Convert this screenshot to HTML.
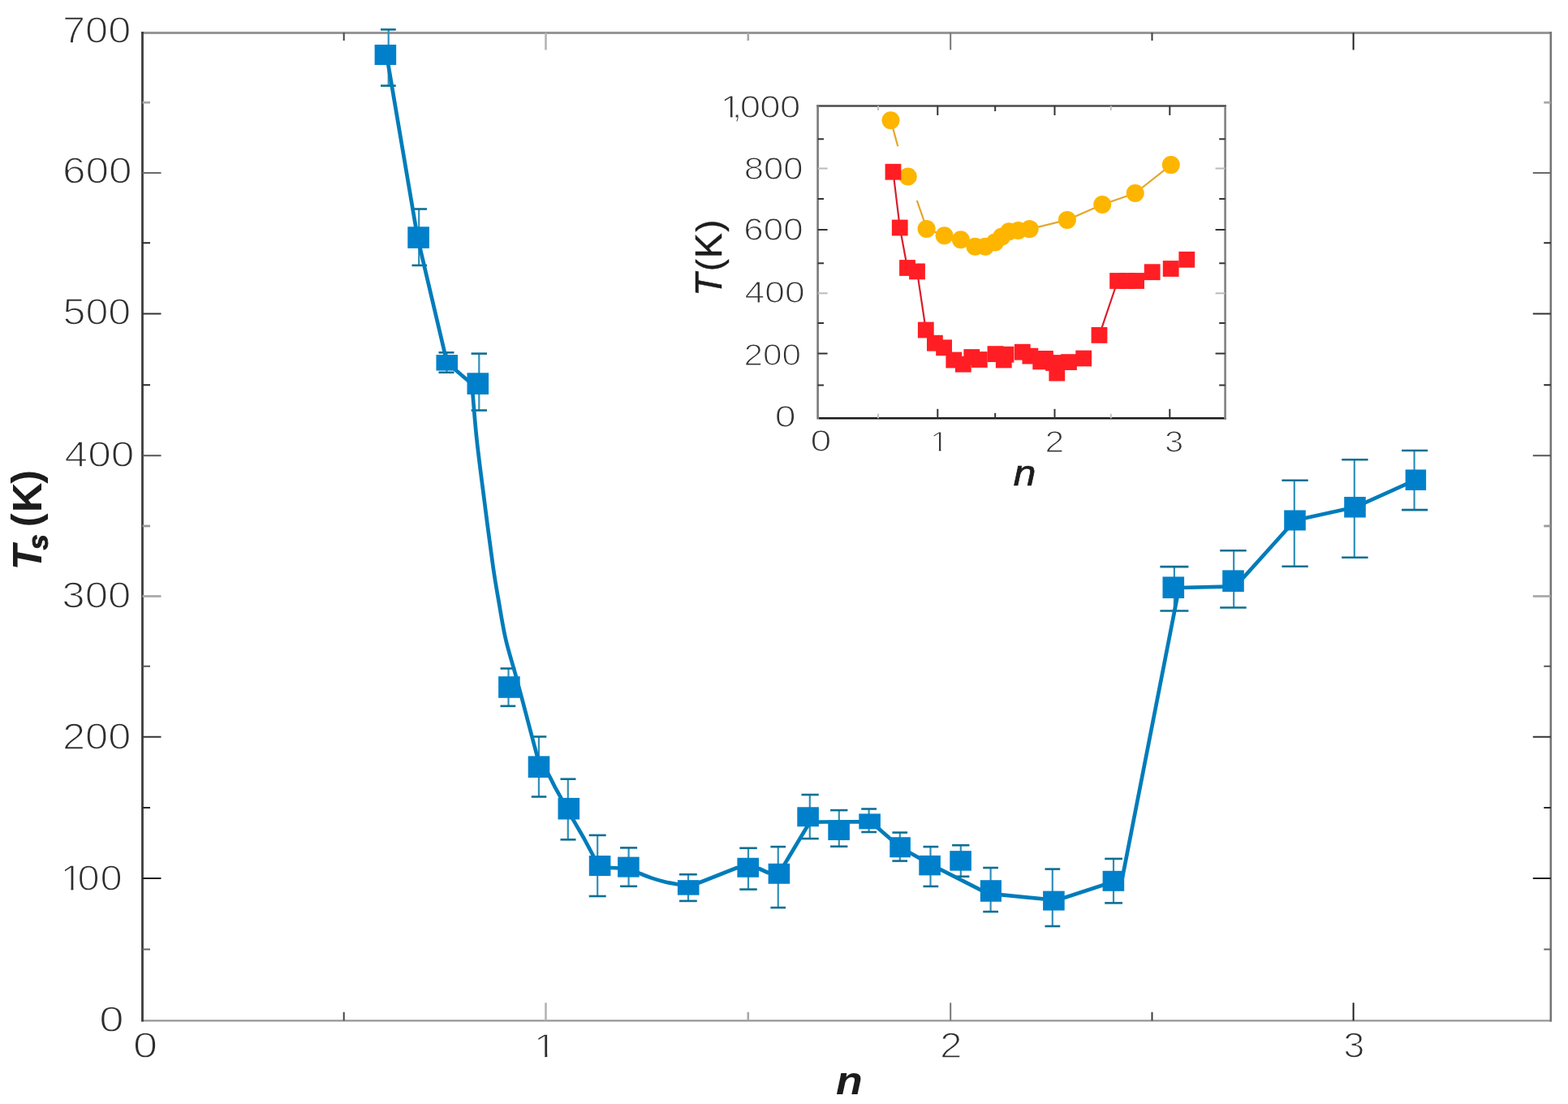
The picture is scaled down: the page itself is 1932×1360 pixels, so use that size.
<!DOCTYPE html>
<html lang="en">
<head>
<meta charset="utf-8">
<title>Ts (K) versus n</title>
<style>
html,body{margin:0;padding:0;background:#fff;}
body{width:1932px;height:1360px;overflow:hidden;font-family:"Liberation Sans",sans-serif;}
svg{display:block;}
</style>
</head>
<body>
<svg width="1932" height="1360" viewBox="0 0 1932 1360" font-family="'Liberation Sans', sans-serif">
<rect x="0" y="0" width="1932" height="1360" fill="#ffffff"/>
<g id="main-axes">
<line x1="174.10" y1="40.50" x2="1912.00" y2="40.50" stroke="#969696" stroke-width="2.8"/>
<line x1="174.10" y1="1257.30" x2="1912.00" y2="1257.30" stroke="#969696" stroke-width="2.3"/>
<line x1="1910.75" y1="39.10" x2="1910.75" y2="1258.40" stroke="#747474" stroke-width="2.5"/>
<line x1="175.50" y1="39.10" x2="175.50" y2="1258.40" stroke="#3c3c3c" stroke-width="2.8"/>
<line x1="423.70" y1="1257.30" x2="423.70" y2="1246.80" stroke="#444" stroke-width="2"/>
<line x1="423.70" y1="40.50" x2="423.70" y2="50.00" stroke="#444" stroke-width="2"/>
<line x1="672.50" y1="1257.30" x2="672.50" y2="1235.30" stroke="#b4b4b4" stroke-width="2.6"/>
<line x1="672.50" y1="40.50" x2="672.50" y2="61.50" stroke="#b4b4b4" stroke-width="2.6"/>
<line x1="921.80" y1="1257.30" x2="921.80" y2="1246.80" stroke="#a8a8a8" stroke-width="2.6"/>
<line x1="921.80" y1="40.50" x2="921.80" y2="50.00" stroke="#a8a8a8" stroke-width="2.6"/>
<line x1="1171.20" y1="1257.30" x2="1171.20" y2="1235.30" stroke="#777" stroke-width="2"/>
<line x1="1171.20" y1="40.50" x2="1171.20" y2="61.50" stroke="#777" stroke-width="2"/>
<line x1="1419.50" y1="1257.30" x2="1419.50" y2="1246.80" stroke="#3a3a3a" stroke-width="2"/>
<line x1="1419.50" y1="40.50" x2="1419.50" y2="50.00" stroke="#3a3a3a" stroke-width="2"/>
<line x1="1667.60" y1="1257.30" x2="1667.60" y2="1235.30" stroke="#1e1e1e" stroke-width="2"/>
<line x1="1667.60" y1="40.50" x2="1667.60" y2="61.50" stroke="#1e1e1e" stroke-width="2"/>
<line x1="175.50" y1="126.25" x2="185.00" y2="126.25" stroke="#a8a8a8" stroke-width="2.8"/>
<line x1="1910.75" y1="126.25" x2="1902.25" y2="126.25" stroke="#a8a8a8" stroke-width="2.8"/>
<line x1="175.50" y1="213.00" x2="198.50" y2="213.00" stroke="#6a6a6a" stroke-width="2"/>
<line x1="1910.75" y1="213.00" x2="1888.75" y2="213.00" stroke="#6a6a6a" stroke-width="2"/>
<line x1="175.50" y1="299.25" x2="185.00" y2="299.25" stroke="#2a2a2a" stroke-width="2"/>
<line x1="1910.75" y1="299.25" x2="1902.25" y2="299.25" stroke="#2a2a2a" stroke-width="2"/>
<line x1="175.50" y1="386.50" x2="198.50" y2="386.50" stroke="#333" stroke-width="2"/>
<line x1="1910.75" y1="386.50" x2="1888.75" y2="386.50" stroke="#333" stroke-width="2"/>
<line x1="175.50" y1="474.25" x2="185.00" y2="474.25" stroke="#2a2a2a" stroke-width="2"/>
<line x1="1910.75" y1="474.25" x2="1902.25" y2="474.25" stroke="#2a2a2a" stroke-width="2"/>
<line x1="175.50" y1="561.25" x2="198.50" y2="561.25" stroke="#555" stroke-width="2"/>
<line x1="1910.75" y1="561.25" x2="1888.75" y2="561.25" stroke="#555" stroke-width="2"/>
<line x1="175.50" y1="648.00" x2="185.00" y2="648.00" stroke="#999" stroke-width="2.8"/>
<line x1="1910.75" y1="648.00" x2="1902.25" y2="648.00" stroke="#999" stroke-width="2.8"/>
<line x1="175.50" y1="734.50" x2="198.50" y2="734.50" stroke="#aaa" stroke-width="2.8"/>
<line x1="1910.75" y1="734.50" x2="1888.75" y2="734.50" stroke="#aaa" stroke-width="2.8"/>
<line x1="175.50" y1="820.75" x2="185.00" y2="820.75" stroke="#555" stroke-width="2"/>
<line x1="1910.75" y1="820.75" x2="1902.25" y2="820.75" stroke="#555" stroke-width="2"/>
<line x1="175.50" y1="907.75" x2="198.50" y2="907.75" stroke="#333" stroke-width="2"/>
<line x1="1910.75" y1="907.75" x2="1888.75" y2="907.75" stroke="#333" stroke-width="2"/>
<line x1="175.50" y1="995.00" x2="185.00" y2="995.00" stroke="#2a2a2a" stroke-width="2"/>
<line x1="1910.75" y1="995.00" x2="1902.25" y2="995.00" stroke="#2a2a2a" stroke-width="2"/>
<line x1="175.50" y1="1082.00" x2="198.50" y2="1082.00" stroke="#222" stroke-width="2"/>
<line x1="1910.75" y1="1082.00" x2="1888.75" y2="1082.00" stroke="#222" stroke-width="2"/>
<line x1="175.50" y1="1169.50" x2="185.00" y2="1169.50" stroke="#666" stroke-width="2"/>
<line x1="1910.75" y1="1169.50" x2="1902.25" y2="1169.50" stroke="#666" stroke-width="2"/>
</g>
<g id="main-labels" font-family="'Liberation Sans', sans-serif">
<text transform="matrix(0.5054 0 0 0.4601 76.95 52.56)" font-size="100" font-weight="normal" font-style="normal" fill="#2e2e2e" stroke="#fff" stroke-width="1.50" vector-effect="non-scaling-stroke">700</text>
<text transform="matrix(0.5130 0 0 0.4530 76.91 226.07)" font-size="100" font-weight="normal" font-style="normal" fill="#2e2e2e" stroke="#fff" stroke-width="1.50" vector-effect="non-scaling-stroke">600</text>
<text transform="matrix(0.5022 0 0 0.4558 77.47 400.07)" font-size="100" font-weight="normal" font-style="normal" fill="#2e2e2e" stroke="#fff" stroke-width="1.50" vector-effect="non-scaling-stroke">500</text>
<text transform="matrix(0.5148 0 0 0.4488 79.62 574.58)" font-size="100" font-weight="normal" font-style="normal" fill="#2e2e2e" stroke="#fff" stroke-width="1.50" vector-effect="non-scaling-stroke">400</text>
<text transform="matrix(0.5089 0 0 0.4572 76.37 748.87)" font-size="100" font-weight="normal" font-style="normal" fill="#2e2e2e" stroke="#fff" stroke-width="1.50" vector-effect="non-scaling-stroke">300</text>
<text transform="matrix(0.5054 0 0 0.4572 76.95 922.67)" font-size="100" font-weight="normal" font-style="normal" fill="#2e2e2e" stroke="#fff" stroke-width="1.50" vector-effect="non-scaling-stroke">200</text>
<text transform="matrix(0.5455 0 0 0.4459 122.29 1270.58)" font-size="100" font-weight="normal" font-style="normal" fill="#2e2e2e" stroke="#fff" stroke-width="1.50" vector-effect="non-scaling-stroke">0</text>
<clipPath id="tc1"><rect x="160.0" y="-80.0" width="27.2" height="70.5"/><rect x="178.5" y="-10.0" width="6.0" height="9.3"/><rect x="196.5" y="-80.0" width="58.0" height="71.0"/><rect x="204.0" y="-10.0" width="50.0" height="45.0"/><rect x="253.8" y="-80.0" width="58.0" height="71.0"/><rect x="261.3" y="-10.0" width="50.0" height="45.0"/></clipPath>
<text transform="matrix(0.4900 0 0 0.4520 0 1096.85)" x="152.0 195.0 252.3" y="0" clip-path="url(#tc1)" font-size="100" fill="#2e2e2e" stroke="#fff" stroke-width="1.50" vector-effect="non-scaling-stroke">100</text>
<text transform="matrix(0.5414 0 0 0.4389 163.91 1302.69)" font-size="100" font-weight="normal" font-style="normal" fill="#2e2e2e" stroke="#fff" stroke-width="1.50" vector-effect="non-scaling-stroke">0</text>
<clipPath id="tc2"><rect x="1307.6" y="-80.0" width="27.2" height="70.5"/><rect x="1326.1" y="-10.0" width="6.0" height="9.3"/></clipPath>
<text transform="matrix(0.5062 0 0 0.4298 0 1302.60)" x="1299.6" y="0" clip-path="url(#tc2)" font-size="100" fill="#2e2e2e" stroke="#fff" stroke-width="1.50" vector-effect="non-scaling-stroke">1</text>
<text transform="matrix(0.4956 0 0 0.4452 1158.00 1303.12)" font-size="100" font-weight="normal" font-style="normal" fill="#2e2e2e" stroke="#fff" stroke-width="1.50" vector-effect="non-scaling-stroke">2</text>
<text transform="matrix(0.4705 0 0 0.4389 1655.21 1302.69)" font-size="100" font-weight="normal" font-style="normal" fill="#2e2e2e" stroke="#fff" stroke-width="1.50" vector-effect="non-scaling-stroke">3</text>
<text transform="matrix(0.5357 0 0 0.4837 1030.06 1348.00)" font-size="100" font-weight="bold" font-style="italic" fill="#1c1c1c">n</text>
<text transform="matrix(0 -1 1 0 51 698.7)" font-weight="bold" font-size="50.5" fill="#1c1c1c"><tspan x="-3.5" font-style="italic">T</tspan><tspan x="21.2" dy="8.4" font-size="34.7" font-style="italic" stroke="#1c1c1c" stroke-width="0.9">s</tspan><tspan x="35.5" dy="-10"> (</tspan><tspan x="67.7" dy="1.6">K</tspan><tspan x="102.9" dy="-1.6">)</tspan></text>
</g>
<g id="main-data">
<line x1="478.70" y1="36.40" x2="478.70" y2="105.60" stroke="#2f8fba" stroke-width="2.2"/>
<line x1="469.00" y1="36.40" x2="487.80" y2="36.40" stroke="#0d6f93" stroke-width="2.6"/>
<line x1="469.00" y1="105.60" x2="487.80" y2="105.60" stroke="#0d6f93" stroke-width="2.6"/>
<line x1="516.20" y1="257.50" x2="516.20" y2="326.90" stroke="#2f8fba" stroke-width="2.2"/>
<line x1="507.50" y1="257.50" x2="526.00" y2="257.50" stroke="#0d6f93" stroke-width="2.6"/>
<line x1="507.50" y1="326.90" x2="526.00" y2="326.90" stroke="#0d6f93" stroke-width="2.6"/>
<line x1="550.50" y1="434.30" x2="550.50" y2="458.80" stroke="#2f8fba" stroke-width="2.2"/>
<line x1="540.50" y1="434.30" x2="559.50" y2="434.30" stroke="#0d6f93" stroke-width="2.6"/>
<line x1="540.50" y1="458.80" x2="559.50" y2="458.80" stroke="#0d6f93" stroke-width="2.6"/>
<line x1="590.30" y1="435.60" x2="590.30" y2="505.50" stroke="#2f8fba" stroke-width="2.2"/>
<line x1="580.60" y1="435.60" x2="600.00" y2="435.60" stroke="#0d6f93" stroke-width="2.6"/>
<line x1="580.60" y1="505.50" x2="600.00" y2="505.50" stroke="#0d6f93" stroke-width="2.6"/>
<line x1="626.50" y1="823.50" x2="626.50" y2="869.80" stroke="#2f8fba" stroke-width="2.2"/>
<line x1="616.50" y1="823.50" x2="635.30" y2="823.50" stroke="#0d6f93" stroke-width="2.6"/>
<line x1="616.50" y1="869.80" x2="635.30" y2="869.80" stroke="#0d6f93" stroke-width="2.6"/>
<line x1="663.90" y1="907.50" x2="663.90" y2="981.50" stroke="#2f8fba" stroke-width="2.2"/>
<line x1="654.80" y1="907.50" x2="673.30" y2="907.50" stroke="#0d6f93" stroke-width="2.6"/>
<line x1="654.80" y1="981.50" x2="673.30" y2="981.50" stroke="#0d6f93" stroke-width="2.6"/>
<line x1="699.80" y1="959.70" x2="699.80" y2="1034.30" stroke="#2f8fba" stroke-width="2.2"/>
<line x1="690.50" y1="959.70" x2="709.50" y2="959.70" stroke="#0d6f93" stroke-width="2.6"/>
<line x1="690.50" y1="1034.30" x2="709.50" y2="1034.30" stroke="#0d6f93" stroke-width="2.6"/>
<line x1="736.20" y1="1028.90" x2="736.20" y2="1104.00" stroke="#2f8fba" stroke-width="2.2"/>
<line x1="725.70" y1="1028.90" x2="746.70" y2="1028.90" stroke="#0d6f93" stroke-width="2.6"/>
<line x1="725.70" y1="1104.00" x2="746.70" y2="1104.00" stroke="#0d6f93" stroke-width="2.6"/>
<line x1="774.60" y1="1044.40" x2="774.60" y2="1091.80" stroke="#2f8fba" stroke-width="2.2"/>
<line x1="764.10" y1="1044.40" x2="785.10" y2="1044.40" stroke="#0d6f93" stroke-width="2.6"/>
<line x1="764.10" y1="1091.80" x2="785.10" y2="1091.80" stroke="#0d6f93" stroke-width="2.6"/>
<line x1="848.00" y1="1077.20" x2="848.00" y2="1109.90" stroke="#2f8fba" stroke-width="2.2"/>
<line x1="837.00" y1="1077.20" x2="858.80" y2="1077.20" stroke="#0d6f93" stroke-width="2.6"/>
<line x1="837.00" y1="1109.90" x2="858.80" y2="1109.90" stroke="#0d6f93" stroke-width="2.6"/>
<line x1="922.00" y1="1044.75" x2="922.00" y2="1095.60" stroke="#2f8fba" stroke-width="2.2"/>
<line x1="911.25" y1="1044.75" x2="932.75" y2="1044.75" stroke="#0d6f93" stroke-width="2.6"/>
<line x1="911.25" y1="1095.60" x2="932.75" y2="1095.60" stroke="#0d6f93" stroke-width="2.6"/>
<line x1="958.75" y1="1043.10" x2="958.75" y2="1118.10" stroke="#2f8fba" stroke-width="2.2"/>
<line x1="949.40" y1="1043.10" x2="968.10" y2="1043.10" stroke="#0d6f93" stroke-width="2.6"/>
<line x1="949.40" y1="1118.10" x2="968.10" y2="1118.10" stroke="#0d6f93" stroke-width="2.6"/>
<line x1="997.80" y1="979.00" x2="997.80" y2="1033.10" stroke="#2f8fba" stroke-width="2.2"/>
<line x1="987.50" y1="979.00" x2="1008.75" y2="979.00" stroke="#0d6f93" stroke-width="2.6"/>
<line x1="987.50" y1="1033.10" x2="1008.75" y2="1033.10" stroke="#0d6f93" stroke-width="2.6"/>
<line x1="1033.80" y1="998.10" x2="1033.80" y2="1042.75" stroke="#2f8fba" stroke-width="2.2"/>
<line x1="1023.10" y1="998.10" x2="1044.40" y2="998.10" stroke="#0d6f93" stroke-width="2.6"/>
<line x1="1023.10" y1="1042.75" x2="1044.40" y2="1042.75" stroke="#0d6f93" stroke-width="2.6"/>
<line x1="1070.60" y1="996.50" x2="1070.60" y2="1025.00" stroke="#2f8fba" stroke-width="2.2"/>
<line x1="1061.25" y1="996.50" x2="1080.00" y2="996.50" stroke="#0d6f93" stroke-width="2.6"/>
<line x1="1061.25" y1="1025.00" x2="1080.00" y2="1025.00" stroke="#0d6f93" stroke-width="2.6"/>
<line x1="1108.80" y1="1025.60" x2="1108.80" y2="1060.60" stroke="#2f8fba" stroke-width="2.2"/>
<line x1="1099.40" y1="1025.60" x2="1118.10" y2="1025.60" stroke="#0d6f93" stroke-width="2.6"/>
<line x1="1099.40" y1="1060.60" x2="1118.10" y2="1060.60" stroke="#0d6f93" stroke-width="2.6"/>
<line x1="1146.50" y1="1043.10" x2="1146.50" y2="1091.90" stroke="#2f8fba" stroke-width="2.2"/>
<line x1="1137.50" y1="1043.10" x2="1156.25" y2="1043.10" stroke="#0d6f93" stroke-width="2.6"/>
<line x1="1137.50" y1="1091.90" x2="1156.25" y2="1091.90" stroke="#0d6f93" stroke-width="2.6"/>
<line x1="1183.80" y1="1041.25" x2="1183.80" y2="1079.75" stroke="#2f8fba" stroke-width="2.2"/>
<line x1="1173.10" y1="1041.25" x2="1194.40" y2="1041.25" stroke="#0d6f93" stroke-width="2.6"/>
<line x1="1173.10" y1="1079.75" x2="1194.40" y2="1079.75" stroke="#0d6f93" stroke-width="2.6"/>
<line x1="1220.60" y1="1069.00" x2="1220.60" y2="1123.10" stroke="#2f8fba" stroke-width="2.2"/>
<line x1="1211.25" y1="1069.00" x2="1230.00" y2="1069.00" stroke="#0d6f93" stroke-width="2.6"/>
<line x1="1211.25" y1="1123.10" x2="1230.00" y2="1123.10" stroke="#0d6f93" stroke-width="2.6"/>
<line x1="1296.80" y1="1070.60" x2="1296.80" y2="1141.00" stroke="#2f8fba" stroke-width="2.2"/>
<line x1="1287.50" y1="1070.60" x2="1306.25" y2="1070.60" stroke="#0d6f93" stroke-width="2.6"/>
<line x1="1287.50" y1="1141.00" x2="1306.25" y2="1141.00" stroke="#0d6f93" stroke-width="2.6"/>
<line x1="1372.00" y1="1057.90" x2="1372.00" y2="1112.40" stroke="#2f8fba" stroke-width="2.2"/>
<line x1="1361.20" y1="1057.90" x2="1383.00" y2="1057.90" stroke="#0d6f93" stroke-width="2.6"/>
<line x1="1361.20" y1="1112.40" x2="1383.00" y2="1112.40" stroke="#0d6f93" stroke-width="2.6"/>
<line x1="1446.90" y1="698.10" x2="1446.90" y2="752.50" stroke="#2f8fba" stroke-width="2.2"/>
<line x1="1429.40" y1="698.10" x2="1464.40" y2="698.10" stroke="#0d6f93" stroke-width="2.6"/>
<line x1="1429.40" y1="752.50" x2="1464.40" y2="752.50" stroke="#0d6f93" stroke-width="2.6"/>
<line x1="1520.20" y1="678.30" x2="1520.20" y2="748.50" stroke="#2f8fba" stroke-width="2.2"/>
<line x1="1503.20" y1="678.30" x2="1535.70" y2="678.30" stroke="#0d6f93" stroke-width="2.6"/>
<line x1="1503.20" y1="748.50" x2="1535.70" y2="748.50" stroke="#0d6f93" stroke-width="2.6"/>
<line x1="1594.80" y1="591.70" x2="1594.80" y2="697.70" stroke="#2f8fba" stroke-width="2.2"/>
<line x1="1579.40" y1="591.70" x2="1611.80" y2="591.70" stroke="#0d6f93" stroke-width="2.6"/>
<line x1="1579.40" y1="697.70" x2="1611.80" y2="697.70" stroke="#0d6f93" stroke-width="2.6"/>
<line x1="1668.80" y1="566.20" x2="1668.80" y2="686.80" stroke="#2f8fba" stroke-width="2.2"/>
<line x1="1653.20" y1="566.20" x2="1685.60" y2="566.20" stroke="#0d6f93" stroke-width="2.6"/>
<line x1="1653.20" y1="686.80" x2="1685.60" y2="686.80" stroke="#0d6f93" stroke-width="2.6"/>
<line x1="1742.60" y1="555.00" x2="1742.60" y2="628.10" stroke="#2f8fba" stroke-width="2.2"/>
<line x1="1727.10" y1="555.00" x2="1759.20" y2="555.00" stroke="#0d6f93" stroke-width="2.6"/>
<line x1="1727.10" y1="628.10" x2="1759.20" y2="628.10" stroke="#0d6f93" stroke-width="2.6"/>
<path d="M476.3 67.5 L514.5 292.6 L550.8 446.8 L581.5 473.0 C582.5 484.2 584.7 515.5 587.3 540.0 C589.9 564.5 593.8 593.3 597.2 620.0 C600.6 646.7 604.9 680.0 607.8 700.0 C610.7 720.0 611.9 725.5 614.4 740.0 C616.9 754.5 619.4 771.3 623.0 787.0 C626.6 802.7 630.9 815.2 636.0 834.0 C641.1 852.8 649.2 883.7 653.5 900.0 C657.8 916.3 660.6 926.7 662.0 932.0 L676.3 954.7 L683.8 969.6 L706.1 1009.6 L719.4 1032.5 L733.0 1058.0 L742.0 1068.5 L774.4 1070.0 C776.6 1070.9 783.0 1073.7 787.6 1075.6 C792.2 1077.5 797.0 1079.6 802.2 1081.4 C807.4 1083.2 813.4 1085.0 818.8 1086.3 C824.2 1087.6 829.8 1088.5 834.7 1089.3 C839.6 1090.1 846.0 1090.7 848.2 1091.0 L861.8 1087.3 L908.0 1069.0 L921.7 1068.7 L935.2 1070.0 L946.2 1075.0 L959.9 1076.0 L994.5 1018.3 L1000.0 1012.6 L1058.0 1012.3 L1073.5 1012.8 L1109.0 1043.8 L1121.2 1050.5 L1145.6 1064.4 L1216.8 1100.6 L1302.0 1109.0 L1360.0 1090.0 L1382.0 1086.0 L1452.8 724.0 L1522.3 722.4 L1595.5 641.0 L1669.5 624.8 L1744.4 591.2" fill="none" stroke="#007cba" stroke-width="4.7" stroke-linejoin="round" stroke-linecap="butt"/>
<rect x="461.60" y="55.00" width="26.60" height="25.00" fill="#0080cb"/>
<rect x="502.30" y="279.30" width="26.60" height="26.60" fill="#0080cb"/>
<rect x="537.45" y="437.05" width="26.60" height="19.50" fill="#0080cb"/>
<rect x="575.50" y="459.30" width="26.60" height="26.60" fill="#0080cb"/>
<rect x="614.10" y="833.20" width="26.60" height="26.60" fill="#0080cb"/>
<rect x="650.70" y="931.40" width="26.60" height="26.60" fill="#0080cb"/>
<rect x="687.50" y="982.90" width="26.60" height="26.60" fill="#0080cb"/>
<rect x="725.80" y="1054.00" width="26.60" height="25.00" fill="#0080cb"/>
<rect x="761.10" y="1055.60" width="26.60" height="25.00" fill="#0080cb"/>
<rect x="834.90" y="1084.15" width="26.60" height="18.50" fill="#0080cb"/>
<rect x="908.40" y="1056.75" width="26.60" height="24.00" fill="#0080cb"/>
<rect x="946.60" y="1063.75" width="26.60" height="25.00" fill="#0080cb"/>
<rect x="982.30" y="994.25" width="26.60" height="24.00" fill="#0080cb"/>
<rect x="1020.30" y="1010.55" width="26.60" height="24.50" fill="#0080cb"/>
<rect x="1058.30" y="1002.40" width="26.60" height="19.00" fill="#0080cb"/>
<rect x="1096.30" y="1031.25" width="25.60" height="25.00" fill="#0080cb"/>
<rect x="1132.30" y="1053.85" width="26.60" height="24.50" fill="#0080cb"/>
<rect x="1170.30" y="1048.15" width="26.60" height="24.50" fill="#0080cb"/>
<rect x="1207.85" y="1084.20" width="26.10" height="26.60" fill="#0080cb"/>
<rect x="1285.10" y="1097.60" width="26.60" height="24.00" fill="#0080cb"/>
<rect x="1358.60" y="1072.80" width="26.60" height="25.00" fill="#0080cb"/>
<rect x="1432.50" y="710.45" width="26.60" height="26.60" fill="#0080cb"/>
<rect x="1506.20" y="702.40" width="26.60" height="26.60" fill="#0080cb"/>
<rect x="1582.20" y="628.50" width="26.60" height="25.00" fill="#0080cb"/>
<rect x="1656.20" y="612.05" width="26.60" height="25.50" fill="#0080cb"/>
<rect x="1731.65" y="578.45" width="25.50" height="25.50" fill="#0080cb"/>
</g>
<g id="inset-axes">
<line x1="1006.30" y1="130.50" x2="1510.95" y2="130.50" stroke="#4a4a4a" stroke-width="2.7"/>
<line x1="1008.90" y1="515.30" x2="1510.95" y2="515.30" stroke="#1a1a1a" stroke-width="2.5"/>
<line x1="1007.60" y1="129.15" x2="1007.60" y2="516.55" stroke="#7a7a7a" stroke-width="2.6"/>
<line x1="1509.60" y1="131.80" x2="1509.60" y2="516.55" stroke="#858585" stroke-width="2.7"/>
<line x1="1082.00" y1="515.30" x2="1082.00" y2="509.80" stroke="#c0c0c0" stroke-width="2"/>
<line x1="1082.00" y1="130.50" x2="1082.00" y2="136.00" stroke="#c0c0c0" stroke-width="2"/>
<line x1="1155.30" y1="515.30" x2="1155.30" y2="503.80" stroke="#333" stroke-width="2"/>
<line x1="1155.30" y1="130.50" x2="1155.30" y2="142.00" stroke="#333" stroke-width="2"/>
<line x1="1226.20" y1="515.30" x2="1226.20" y2="508.80" stroke="#333" stroke-width="2"/>
<line x1="1226.20" y1="130.50" x2="1226.20" y2="137.00" stroke="#333" stroke-width="2"/>
<line x1="1299.50" y1="515.30" x2="1299.50" y2="503.80" stroke="#333" stroke-width="2"/>
<line x1="1299.50" y1="130.50" x2="1299.50" y2="142.00" stroke="#333" stroke-width="2"/>
<line x1="1368.80" y1="515.30" x2="1368.80" y2="509.80" stroke="#c0c0c0" stroke-width="2"/>
<line x1="1368.80" y1="130.50" x2="1368.80" y2="136.00" stroke="#c0c0c0" stroke-width="2"/>
<line x1="1441.30" y1="515.30" x2="1441.30" y2="503.80" stroke="#333" stroke-width="2"/>
<line x1="1441.30" y1="130.50" x2="1441.30" y2="142.00" stroke="#333" stroke-width="2"/>
<line x1="1007.60" y1="171.30" x2="1015.00" y2="171.30" stroke="#333" stroke-width="2"/>
<line x1="1509.60" y1="171.30" x2="1502.20" y2="171.30" stroke="#333" stroke-width="2"/>
<line x1="1007.60" y1="207.50" x2="1019.60" y2="207.50" stroke="#bbb" stroke-width="2"/>
<line x1="1509.60" y1="207.50" x2="1497.60" y2="207.50" stroke="#bbb" stroke-width="2"/>
<line x1="1007.60" y1="245.00" x2="1015.00" y2="245.00" stroke="#333" stroke-width="2"/>
<line x1="1509.60" y1="245.00" x2="1502.20" y2="245.00" stroke="#333" stroke-width="2"/>
<line x1="1007.60" y1="283.00" x2="1019.60" y2="283.00" stroke="#333" stroke-width="2"/>
<line x1="1509.60" y1="283.00" x2="1497.60" y2="283.00" stroke="#333" stroke-width="2"/>
<line x1="1007.60" y1="324.30" x2="1015.00" y2="324.30" stroke="#333" stroke-width="2"/>
<line x1="1509.60" y1="324.30" x2="1502.20" y2="324.30" stroke="#333" stroke-width="2"/>
<line x1="1007.60" y1="361.30" x2="1019.60" y2="361.30" stroke="#bbb" stroke-width="2"/>
<line x1="1509.60" y1="361.30" x2="1497.60" y2="361.30" stroke="#bbb" stroke-width="2"/>
<line x1="1007.60" y1="398.00" x2="1015.00" y2="398.00" stroke="#333" stroke-width="2"/>
<line x1="1509.60" y1="398.00" x2="1502.20" y2="398.00" stroke="#333" stroke-width="2"/>
<line x1="1007.60" y1="435.50" x2="1019.60" y2="435.50" stroke="#333" stroke-width="2"/>
<line x1="1509.60" y1="435.50" x2="1497.60" y2="435.50" stroke="#333" stroke-width="2"/>
<line x1="1007.60" y1="474.50" x2="1015.00" y2="474.50" stroke="#333" stroke-width="2"/>
<line x1="1509.60" y1="474.50" x2="1502.20" y2="474.50" stroke="#333" stroke-width="2"/>
</g>
<g id="inset-labels" font-family="'Liberation Sans', sans-serif">
<clipPath id="tc3"><rect x="1959.3" y="-80.0" width="27.2" height="70.5"/><rect x="1977.8" y="-10.0" width="6.0" height="9.3"/><rect x="1983.5" y="-80.0" width="58.0" height="71.0"/><rect x="1991.0" y="-10.0" width="50.0" height="45.0"/><rect x="2005.2" y="-80.0" width="58.0" height="71.0"/><rect x="2012.7" y="-10.0" width="50.0" height="45.0"/><rect x="2059.0" y="-80.0" width="58.0" height="71.0"/><rect x="2066.5" y="-10.0" width="50.0" height="45.0"/><rect x="2113.5" y="-80.0" width="58.0" height="71.0"/><rect x="2121.0" y="-10.0" width="50.0" height="45.0"/></clipPath>
<text transform="matrix(0.4550 0 0 0.3799 0 144.72)" x="1951.3 1982.0 2003.7 2057.5 2112.0" y="0" clip-path="url(#tc3)" font-size="100" fill="#333" stroke="#fff" stroke-width="1.30" vector-effect="non-scaling-stroke">1,000</text>
<text transform="matrix(0.4372 0 0 0.3846 916.69 221.37)" font-size="100" font-weight="normal" font-style="normal" fill="#333" stroke="#fff" stroke-width="1.30" vector-effect="non-scaling-stroke">800</text>
<text transform="matrix(0.4393 0 0 0.3846 916.35 295.87)" font-size="100" font-weight="normal" font-style="normal" fill="#333" stroke="#fff" stroke-width="1.30" vector-effect="non-scaling-stroke">600</text>
<text transform="matrix(0.4442 0 0 0.3733 917.55 372.88)" font-size="100" font-weight="normal" font-style="normal" fill="#333" stroke="#fff" stroke-width="1.30" vector-effect="non-scaling-stroke">400</text>
<text transform="matrix(0.4235 0 0 0.3705 916.43 450.38)" font-size="100" font-weight="normal" font-style="normal" fill="#333" stroke="#fff" stroke-width="1.30" vector-effect="non-scaling-stroke">200</text>
<text transform="matrix(0.4651 0 0 0.3620 954.68 525.79)" font-size="100" font-weight="normal" font-style="normal" fill="#333" stroke="#fff" stroke-width="1.30" vector-effect="non-scaling-stroke">0</text>
<text transform="matrix(0.4651 0 0 0.3705 998.38 556.38)" font-size="100" font-weight="normal" font-style="normal" fill="#333" stroke="#fff" stroke-width="1.30" vector-effect="non-scaling-stroke">0</text>
<clipPath id="tc4"><rect x="2792.9" y="-80.0" width="27.2" height="70.5"/><rect x="2811.4" y="-10.0" width="6.0" height="9.3"/></clipPath>
<text transform="matrix(0.4115 0 0 0.3553 0 556.30)" x="2784.9" y="0" clip-path="url(#tc4)" font-size="100" fill="#333" stroke="#fff" stroke-width="1.30" vector-effect="non-scaling-stroke">1</text>
<text transform="matrix(0.4266 0 0 0.3758 1287.41 556.75)" font-size="100" font-weight="normal" font-style="normal" fill="#333" stroke="#fff" stroke-width="1.30" vector-effect="non-scaling-stroke">2</text>
<text transform="matrix(0.4192 0 0 0.3775 1434.97 556.88)" font-size="100" font-weight="normal" font-style="normal" fill="#333" stroke="#fff" stroke-width="1.30" vector-effect="non-scaling-stroke">3</text>
<text transform="matrix(0.4975 0 0 0.4502 1248.63 598.00)" font-size="100" font-weight="normal" font-style="italic" fill="#1c1c1c" stroke="#1c1c1c" stroke-width="1.6">n</text>
<text transform="matrix(0 -1 1 0 888.7 360.7)" font-size="46" fill="#1c1c1c" stroke="#1c1c1c" stroke-width="0.5"><tspan x="-4.1" font-style="italic">T</tspan><tspan x="26.8" font-size="44">(</tspan><tspan x="42.7">K</tspan><tspan x="75.3" font-size="44">)</tspan></text>
</g>
<g id="inset-data">
<path d="M1097.5 148 L1106.3 180.3 M1129.8 247 L1142 282 L1163.6 290.2 L1183.8 295.3 L1201.4 303.7 L1214.1 303.7 L1226.0 298.4 L1234.4 291.4 L1243.2 285.2 L1254.6 283.9 L1268.7 282.1 L1314.9 270.9 L1358.2 252.0 L1398.7 238.0 L1442.8 203.1" fill="none" stroke="#e3a62a" stroke-width="2.2" stroke-linejoin="round"/>
<path d="M1100.5 211.8 L1108.8 280.5 L1118 330 L1130 334.4 L1140.8 406.5 L1151.9 422.7 M1354.5 412.9 L1377.1 346" fill="none" stroke="#d81e2c" stroke-width="2.2" stroke-linejoin="round"/>
<circle cx="1097.50" cy="148.20" r="11" fill="#fdb500"/>
<circle cx="1118.75" cy="217.50" r="11" fill="#fdb500"/>
<circle cx="1141.60" cy="281.90" r="11" fill="#fdb500"/>
<circle cx="1163.60" cy="290.20" r="11" fill="#fdb500"/>
<circle cx="1183.80" cy="295.30" r="11" fill="#fdb500"/>
<circle cx="1201.40" cy="303.70" r="11" fill="#fdb500"/>
<circle cx="1214.10" cy="303.70" r="11" fill="#fdb500"/>
<circle cx="1226.00" cy="298.40" r="11" fill="#fdb500"/>
<circle cx="1234.40" cy="291.40" r="11" fill="#fdb500"/>
<circle cx="1243.20" cy="285.20" r="11" fill="#fdb500"/>
<circle cx="1254.60" cy="283.90" r="11" fill="#fdb500"/>
<circle cx="1268.70" cy="282.10" r="11" fill="#fdb500"/>
<circle cx="1314.90" cy="270.90" r="11" fill="#fdb500"/>
<circle cx="1358.20" cy="252.00" r="11" fill="#fdb500"/>
<circle cx="1398.70" cy="238.00" r="11" fill="#fdb500"/>
<circle cx="1442.80" cy="203.10" r="11" fill="#fdb500"/>
<rect x="1090.60" y="201.85" width="19.80" height="19.80" fill="#ff1e24"/>
<rect x="1098.85" y="270.60" width="19.80" height="19.80" fill="#ff1e24"/>
<rect x="1108.10" y="320.10" width="19.80" height="19.80" fill="#ff1e24"/>
<rect x="1120.10" y="324.50" width="19.80" height="19.80" fill="#ff1e24"/>
<rect x="1130.90" y="396.60" width="19.80" height="19.80" fill="#ff1e24"/>
<rect x="1142.00" y="412.80" width="19.80" height="19.80" fill="#ff1e24"/>
<rect x="1153.20" y="418.40" width="19.80" height="19.80" fill="#ff1e24"/>
<rect x="1165.40" y="433.60" width="19.80" height="19.80" fill="#ff1e24"/>
<rect x="1176.90" y="438.80" width="19.80" height="19.80" fill="#ff1e24"/>
<rect x="1187.40" y="430.10" width="19.80" height="19.80" fill="#ff1e24"/>
<rect x="1196.90" y="433.10" width="19.80" height="19.80" fill="#ff1e24"/>
<rect x="1216.60" y="426.20" width="19.80" height="19.80" fill="#ff1e24"/>
<rect x="1229.60" y="426.80" width="19.80" height="19.80" fill="#ff1e24"/>
<rect x="1226.90" y="433.60" width="19.80" height="19.80" fill="#ff1e24"/>
<rect x="1249.90" y="423.80" width="19.80" height="19.80" fill="#ff1e24"/>
<rect x="1259.50" y="428.70" width="19.80" height="19.80" fill="#ff1e24"/>
<rect x="1272.30" y="435.50" width="19.80" height="19.80" fill="#ff1e24"/>
<rect x="1278.10" y="432.00" width="19.80" height="19.80" fill="#ff1e24"/>
<rect x="1288.10" y="437.10" width="19.80" height="19.80" fill="#ff1e24"/>
<rect x="1292.40" y="449.70" width="19.80" height="19.80" fill="#ff1e24"/>
<rect x="1307.10" y="436.20" width="19.80" height="19.80" fill="#ff1e24"/>
<rect x="1325.30" y="431.60" width="19.80" height="19.80" fill="#ff1e24"/>
<rect x="1344.60" y="403.00" width="19.80" height="19.80" fill="#ff1e24"/>
<rect x="1367.20" y="336.10" width="19.80" height="19.80" fill="#ff1e24"/>
<rect x="1378.70" y="336.10" width="19.80" height="19.80" fill="#ff1e24"/>
<rect x="1390.20" y="336.10" width="19.80" height="19.80" fill="#ff1e24"/>
<rect x="1409.80" y="325.30" width="19.80" height="19.80" fill="#ff1e24"/>
<rect x="1432.80" y="321.10" width="19.80" height="19.80" fill="#ff1e24"/>
<rect x="1452.40" y="309.90" width="19.80" height="19.80" fill="#ff1e24"/>
</g>
</svg>
</body>
</html>
